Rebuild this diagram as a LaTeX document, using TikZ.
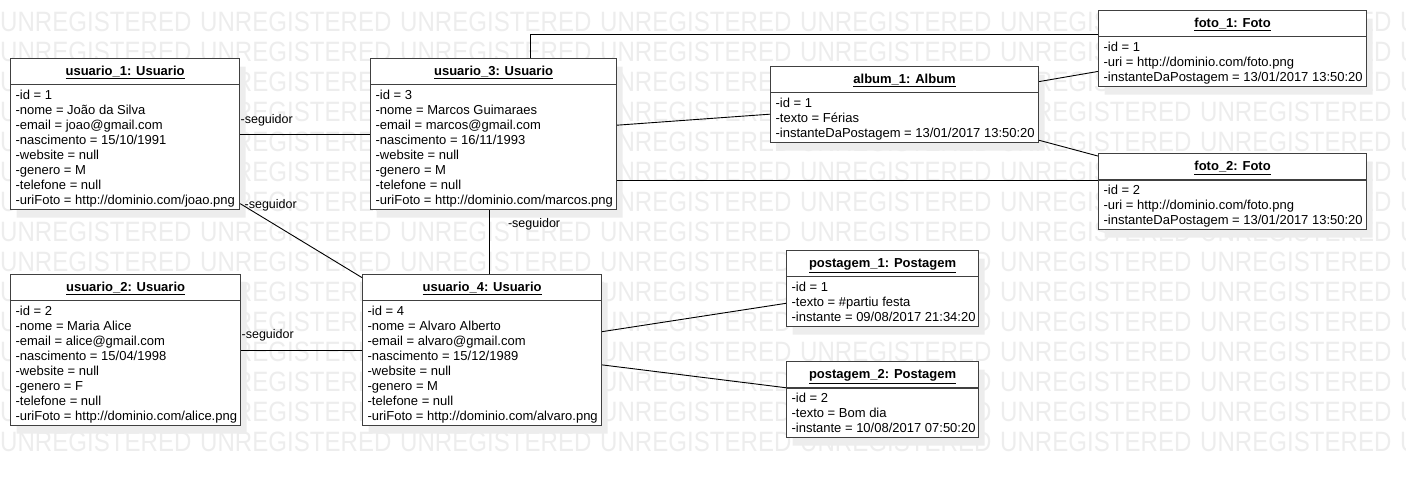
\documentclass[tikz,border=0pt]{standalone}
\usepackage{fontspec}
\setmainfont{Liberation Sans}
\newfontfamily\wmfont[FakeStretch=0.86]{Liberation Sans}
\usepackage{tikz}
\usetikzlibrary{positioning,shapes.multipart,shadows,calc}
\usepackage{xcolor}
\newcommand{\objtitle}[1]{\rule[-8.5pt]{0pt}{25pt}\underline{\textbf{#1}}}
\newcommand{\objattrs}[2]{\makebox[#1][l]{\begin{tabular}[t]{@{}l@{}}\rule{0pt}{14pt}#2\end{tabular}}}
\tikzset{
  objbox/.style={
    rectangle split, rectangle split parts=2,
    rectangle split part align={center,left},
    draw=black!75, line width=1.2pt, fill=white,
    drop shadow={shadow xshift=6pt, shadow yshift=-8pt, fill=black!7, opacity=1},
    inner xsep=5pt, inner ysep=0pt, anchor=north west,
    font=\fontsize{13}{15}\selectfont
  },
  link/.style={line width=0.9pt, black},
  rolelabel/.style={font=\fontsize{12.5}{15}\selectfont, inner sep=0pt, anchor=base west},
  watermark/.style={font=\wmfont\fontsize{28}{28}\selectfont, text=black!7, inner sep=0pt, anchor=west}
}

\begin{document}
\begin{tikzpicture}[x=1pt, y=-1pt, node distance=66pt]
  \useasboundingbox (0,0) rectangle (1406,479);
  % watermark
  \begin{scope}
    \clip (0,0) rectangle (1406,479);
    \foreach \row in {0,...,14}
      \foreach \col in {0,...,7}
        \node[watermark] at (200*\col, 22+30*\row) {UNREGISTERED};
  \end{scope}

  % objects
  \node[objbox] (usr1) at (10,58) {\objtitle{usuario\_1: Usuario}
    \nodepart{two}\objattrs{219pt}{-id = 1\\-nome = João da Silva\\-email = joao@gmail.com\\-nascimento = 15/10/1991\\-website = null\\-genero = M\\-telefone = null\\-uriFoto = http://dominio.com/joao.png}};
  \node[objbox] (usr3) at (370,58) {\objtitle{usuario\_3: Usuario}
    \nodepart{two}\objattrs{236pt}{-id = 3\\-nome = Marcos Guimaraes\\-email = marcos@gmail.com\\-nascimento = 16/11/1993\\-website = null\\-genero = M\\-telefone = null\\-uriFoto = http://dominio.com/marcos.png}};
  \node[objbox] (usr2) at (10,274) {\objtitle{usuario\_2: Usuario}
    \nodepart{two}\objattrs{220pt}{-id = 2\\-nome = Maria Alice\\-email = alice@gmail.com\\-nascimento = 15/04/1998\\-website = null\\-genero = F\\-telefone = null\\-uriFoto = http://dominio.com/alice.png}};
  \node[objbox] (usr4) at (362,274) {\objtitle{usuario\_4: Usuario}
    \nodepart{two}\objattrs{229pt}{-id = 4\\-nome = Alvaro Alberto\\-email = alvaro@gmail.com\\-nascimento = 15/12/1989\\-website = null\\-genero = M\\-telefone = null\\-uriFoto = http://dominio.com/alvaro.png}};

  \node[objbox] (album) at (770,66) {\objtitle{album\_1: Album}
    \nodepart{two}\objattrs{258pt}{-id = 1\\-texto = Férias\\-instanteDaPostagem = 13/01/2017 13:50:20}};
  \node[objbox] (foto1) at (1098,10) {\objtitle{foto\_1: Foto}
    \nodepart{two}\objattrs{258pt}{-id = 1\\-uri = http://dominio.com/foto.png\\-instanteDaPostagem = 13/01/2017 13:50:20}};
  \node[objbox, anchor=north, below=of foto1] (foto2) {\objtitle{foto\_2: Foto}
    \nodepart{two}\objattrs{258pt}{-id = 2\\-uri = http://dominio.com/foto.png\\-instanteDaPostagem = 13/01/2017 13:50:20}};

  \node[objbox] (post1) at (786,250) {\objtitle{postagem\_1: Postagem}
    \nodepart{two}\objattrs{182pt}{-id = 1\\-texto = \#partiu festa\\-instante = 09/08/2017 21:34:20}};
  \node[objbox, anchor=north, below=34pt of post1] (post2) {\objtitle{postagem\_2: Postagem}
    \nodepart{two}\objattrs{182pt}{-id = 2\\-texto = Bom dia\\-instante = 10/08/2017 07:50:20}};

  % links
  \draw[link] (usr1.east) -- (usr1.east -| usr3.west)
    node[rolelabel, pos=0, yshift=11pt] {-seguidor};
  \draw[link] (usr1) -- (usr4)
    node[rolelabel, pos=0, xshift=4pt, yshift=-5pt] {-seguidor};
  \draw[link] (usr2) -- (usr4)
    node[rolelabel, pos=0, yshift=12pt] {-seguidor};
  \draw[link] ([xshift=-4pt]usr3.south) -- ([xshift=-4pt]usr3.south |- usr4.north)
    node[rolelabel, pos=0, xshift=18pt, yshift=-17pt] {-seguidor};
  \draw[link] ([xshift=37pt]usr3.north) |- ([yshift=14pt]foto1.west);
  \draw[link] (usr3) -- (album);
  \draw[link] ([yshift=-46pt]usr3.east) -- ([yshift=-46pt]usr3.east -| foto2.west);
  \draw[link] (album) -- (foto1);
  \draw[link] (album) -- (foto2);
  \draw[link] (usr4) -- (post1);
  \draw[link] (usr4) -- (post2);
\end{tikzpicture}
\end{document}
